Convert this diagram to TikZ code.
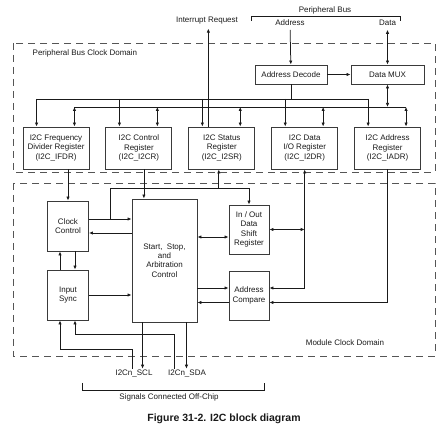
\documentclass[tikz,border=0pt]{standalone}
\usepackage{fontspec}
\setmainfont{Liberation Sans}
\usetikzlibrary{arrows.meta, positioning}
\definecolor{clrLine}{HTML}{1A1A1A}
\definecolor{clrBox}{HTML}{3A3A3A}
\definecolor{clrDash}{HTML}{555555}

\begin{document}
\begin{tikzpicture}[
  x=1pt, y=-1pt,
  every node/.style={font=\fontsize{8}{9.4}\selectfont, text=clrLine, inner sep=1.5pt},
  box/.style={rectangle, draw=clrBox, line width=0.9pt, align=center},
  reg/.style={box, minimum width=66pt, minimum height=42pt},
  toplabel/.style={outer sep=2.5pt},
  arrow/.style={-{Latex[length=4pt, width=3.4pt]}, line width=0.75pt, color=clrLine},
  dblarrow/.style={{Latex[length=4pt, width=3.4pt]}-{Latex[length=4pt, width=3.4pt]}, line width=0.75pt, color=clrLine},
  wire/.style={line width=0.75pt, color=clrLine},
  domainbox/.style={draw=clrDash, line width=0.8pt, dash pattern=on 7pt off 5pt}
]
\useasboundingbox (0,0) rectangle (448,435);

% ── clock domains ────────────────────────────────────────────────────────────
\draw[domainbox] (13,43) rectangle (435,172);
\draw[domainbox] (13,183) rectangle (435,356);
\node[anchor=west] (pbdom) at (31,53) {Peripheral Bus Clock Domain};
\node (mcdom) at (345,343) {Module Clock Domain};

% ── peripheral bus side ──────────────────────────────────────────────────────
\node (pbus) at (325,10) {Peripheral Bus};
\draw[wire] (251,21) -- (251,16) -- (400,16) -- (400,21);
\node[toplabel] (addr) at (290,23) {Address};
\node[toplabel] (data) at (387.5,23) {Data};
\node[toplabel] (irqlbl) at (207,21) {Interrupt Request};

\node[box, minimum width=72pt, minimum height=19pt] (addrdec) at (291,74.5) {Address Decode};
\node[box, minimum width=73pt, minimum height=19pt] (datamux) at (387.5,74.5) {Data MUX};

% ── registers ────────────────────────────────────────────────────────────────
\node[reg] (ifdr) at (56,148) {I2C Frequency\\Divider Register\\(I2C\_IFDR)};
\node[reg, right=16pt of ifdr] (i2cr) {I2C Control\\Register\\(I2C\_I2CR)};
\node[reg, right=16pt of i2cr] (i2sr) {I2C Status\\Register\\(I2C\_I2SR)};
\node[reg, right=16pt of i2sr] (i2dr) {I2C Data\\I/O Register\\(I2C\_I2DR)};
\node[reg, right=16pt of i2dr] (iadr) {I2C Address\\Register\\(I2C\_IADR)};

% ── module blocks ────────────────────────────────────────────────────────────
\node[box, minimum width=41pt, minimum height=50pt] (clkctl) at (68,226) {Clock\\Control};
\node[box, minimum width=41pt, minimum height=50pt] (insync) at (68,295) {Input\\Sync};
\node[box, minimum width=65pt, minimum height=123pt] (ssac) at (164.5,260.5)
  {Start,\ \ Stop,\\and\\Arbitration\\Control};
\node[box, minimum width=40pt, minimum height=49pt] (shift) at (249,229.5) {In / Out\\Data\\Shift\\Register};
\node[box, minimum width=40pt, minimum height=49pt] (adrcmp) at (249,295.5) {Address\\Compare};

% ── off-chip signals ─────────────────────────────────────────────────────────
\node (scl) at (134,374) {I2Cn\_SCL};
\node (sda) at (187,374) {I2Cn\_SDA};
\node (offchip) at (169,397) {Signals Connected Off-Chip};
\draw[wire] (82,383) -- (82,390) -- (264,390) -- (264,383);

\node[font=\fontsize{10.5}{12}\selectfont\bfseries] (caption) at (224,419) {Figure 31-2. I2C block diagram};

% ── bus arrows ───────────────────────────────────────────────────────────────
\coordinate (busA) at (0,99);
\coordinate (busB) at (0,107);
\draw[arrow] (addr) -- (addrdec);
\draw[dblarrow] (data) -- (datamux);
\draw[arrow] (addrdec) -- (datamux);
\foreach \r in {ifdr,i2cr,i2sr,i2dr,iadr} {
  \coordinate (in\r) at ([xshift=14pt]\r.north west);
  \coordinate (io\r) at ([xshift=-15pt]\r.north east);
  \draw[arrow] (in\r |- busA) -- (in\r);
  \draw[dblarrow] (io\r |- busB) -- (io\r);
}
\draw[wire] (inifdr |- busA) -- (iniadr |- busA);
\draw[wire] (addrdec.south) -- (addrdec.south |- busA);
\draw[wire] (ioifdr |- busB) -- (ioiadr |- busB);
\draw[dblarrow] (datamux.south) -- (datamux.south |- busB);
\coordinate (irq) at ([xshift=20pt]i2sr.north west);
\draw[arrow] (irq) -- (irq |- irqlbl.south);

% ── module arrows ────────────────────────────────────────────────────────────
\draw[arrow] (clkctl.north |- ifdr.south) -- (clkctl.north);
\coordinate (ctlout) at ([xshift=5pt]i2cr.south);
\draw[arrow] (ctlout) -- (ctlout |- ssac.north);
\coordinate (statin) at ([xshift=-3pt]i2sr.south);
\coordinate (ckout) at ([yshift=7pt]clkctl.east);
\coordinate (ckin) at ([yshift=-7pt]clkctl.east);
\coordinate (ckbus) at (110,188);
\draw[arrow] (ckout) -- (ckout -| ssac.west);
\draw[arrow] (ckout -| ckbus) -- (ckbus) -| (shift.north);
\draw[arrow] (statin |- ckbus) -- (statin);
\draw[arrow] (ckin -| ssac.west) -- (ckin);
\draw[arrow] ([xshift=-8pt]insync.north) -- ([xshift=-8pt]clkctl.south);
\draw[arrow] ([xshift=7pt]clkctl.south) -- ([xshift=7pt]insync.north);
\draw[arrow] (insync.east) -- (insync.east -| ssac.west);

\coordinate (shl) at ([yshift=-7.5pt]shift.west);
\draw[dblarrow] (shl -| ssac.east) -- (shl);
\draw[dblarrow] (shift.east) -- (shift.east -| i2dr.south);
\coordinate (acr1) at ([yshift=7.5pt]adrcmp.east);
\coordinate (acr2) at ([yshift=-7pt]adrcmp.east);
\coordinate (acl1) at ([yshift=7.5pt]adrcmp.west);
\coordinate (acl2) at ([yshift=-7pt]adrcmp.west);
\draw[arrow] (acr1 -| i2dr.south) -- (i2dr.south);
\draw[arrow] (acr1 -| i2dr.south) -- (acr1);
\draw[arrow] (iadr.south) |- (acr2);
\draw[arrow] (acl1 -| ssac.east) -- (acl1);
\draw[arrow] (acl2) -- (acl2 -| ssac.east);

% ── pins ─────────────────────────────────────────────────────────────────────
\coordinate (sclo) at ([xshift=11pt]ssac.south west);
\coordinate (sdao) at ([xshift=-11pt]ssac.south east);
\draw[arrow] (sclo) -- (sclo |- scl.north);
\draw[arrow] (sdao) -- (sdao |- sda.north);
\coordinate (sclin) at ([xshift=-2pt]scl.north);
\coordinate (sdain) at ([xshift=-13pt]sda.north);
\coordinate (isl) at ([xshift=-8pt]insync.south);
\coordinate (isr) at ([xshift=7pt]insync.south);
\coordinate (ret1) at (0,349);
\coordinate (ret2) at (0,334);
\draw[arrow] (sclin) |- (ret1 -| isl) -- (isl);
\draw[arrow] (sdain) |- (ret2 -| isr) -- (isr);

\end{tikzpicture}
\end{document}
